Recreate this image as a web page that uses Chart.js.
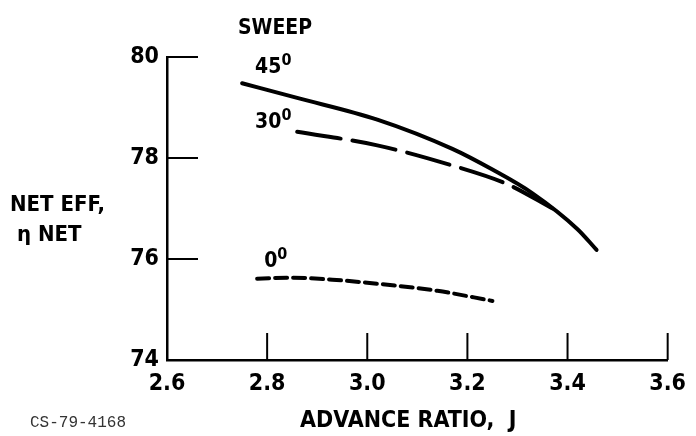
<!DOCTYPE html>
<html>
<head>
<meta charset="utf-8">
<title>Net efficiency vs advance ratio</title>
<script src="https://cdn.jsdelivr.net/npm/chart.js@4.4.1/dist/chart.umd.min.js"></script>
<style>
  html, body { margin: 0; padding: 0; background: #fff; }
  #wrap { width: 696px; height: 436px; }
</style>
</head>
<body>
<div id="wrap"><canvas id="effChart" width="696" height="436"></canvas></div>
<script>
// values
const sweep45J   = [2.75, 2.86, 3.02, 3.17, 3.25, 3.33, 3.42, 3.458];
const sweep45Eff = [79.48, 79.19, 78.76, 78.18, 77.77, 77.30, 76.59, 76.18];

const sweep30J   = [2.86, 3.02, 3.17, 3.28, 3.37];
const sweep30Eff = [78.52, 78.25, 77.85, 77.48, 77.00];

const sweep0J    = [2.78, 2.85, 2.93, 3.02, 3.14, 3.25];
const sweep0Eff  = [75.61, 75.63, 75.59, 75.51, 75.37, 75.17];

const xTicks = [2.6, 2.8, 3.0, 3.2, 3.4, 3.6];
const yTicks = [74, 76, 78, 80];

// curve labels: text, J, eff at baseline
const curveLabels = [
    { text: '45', x: 2.776, y: 79.68 },
    { text: '30', x: 2.776, y: 78.60 },
    { text: '0',  x: 2.794, y: 75.84 }
];

const FONT = '"Liberation Sans Narrow", "DejaVu Sans Condensed", "Roboto Condensed", sans-serif';

function toPoints(xs, ys) {
    return xs.map((x, i) => ({ x: x, y: ys[i] }));
}

const annotations = {
    id: 'annotations',
    afterDraw(chart) {
        const ctx = chart.ctx;
        const xs = chart.scales.x;
        const ys = chart.scales.y;
        const area = chart.chartArea;

        ctx.save();
        ctx.strokeStyle = '#000';
        ctx.lineWidth = 2;
        ctx.lineCap = 'butt';

        // inward tick marks
        yTicks.forEach(v => {
            if (v === ys.min) return;
            const py = ys.getPixelForValue(v);
            ctx.beginPath();
            ctx.moveTo(area.left, py);
            ctx.lineTo(area.left + 31, py);
            ctx.stroke();
        });
        xTicks.forEach(v => {
            if (v === xs.min) return;
            const px = xs.getPixelForValue(v);
            ctx.beginPath();
            ctx.moveTo(px, area.bottom);
            ctx.lineTo(px, area.bottom - 27);
            ctx.stroke();
        });

        ctx.fillStyle = '#000';
        ctx.textBaseline = 'alphabetic';

        // curve labels with degree sign
        curveLabels.forEach(l => {
            const px = xs.getPixelForValue(l.x);
            const py = ys.getPixelForValue(l.y);
            ctx.font = 'bold 21px ' + FONT;
            ctx.textAlign = 'left';
            ctx.fillText(l.text, px, py);
            const w = ctx.measureText(l.text).width;
            ctx.font = 'bold 16px ' + FONT;
            ctx.fillText('0', px + w, py - 8);
        });

        // legend heading
        ctx.font = 'bold 21px ' + FONT;
        ctx.textAlign = 'left';
        ctx.fillText('SWEEP', 238, 34);

        // y title
        ctx.font = 'bold 22px ' + FONT;
        ctx.fillText('NET EFF,', 10, 211);
        ctx.fillText('\u03B7 NET', 17, 241);

        // x title
        ctx.font = 'bold 23px ' + FONT;
        ctx.fillText('ADVANCE RATIO,  J', 300, 427);

        // figure number
        ctx.font = '16px "Liberation Mono", "DejaVu Sans Mono", monospace';
        ctx.fillStyle = '#333';
        ctx.fillText('CS-79-4168', 30, 427);
        ctx.restore();
    }
};

new Chart(document.getElementById('effChart'), {
    type: 'line',
    data: {
        datasets: [
            {
                label: '45',
                data: toPoints(sweep45J, sweep45Eff),
                borderColor: '#000',
                borderWidth: 4,
                borderCapStyle: 'round',
                pointRadius: 0,
                cubicInterpolationMode: 'monotone',
                fill: false
            },
            {
                label: '30',
                data: toPoints(sweep30J, sweep30Eff),
                borderColor: '#000',
                borderWidth: 4,
                borderCapStyle: 'round',
                borderDash: [44, 12],
                pointRadius: 0,
                cubicInterpolationMode: 'monotone',
                fill: false
            },
            {
                label: '0',
                data: toPoints(sweep0J, sweep0Eff),
                borderColor: '#000',
                borderWidth: 4,
                borderCapStyle: 'round',
                borderDash: [12, 6],
                pointRadius: 0,
                cubicInterpolationMode: 'monotone',
                fill: false
            }
        ]
    },
    options: {
        responsive: false,
        animation: false,
        devicePixelRatio: 1,
        layout: { padding: { top: 57, right: 19, left: 0, bottom: 0 } },
        plugins: {
            legend: { display: false },
            tooltip: { enabled: false }
        },
        scales: {
            x: {
                type: 'linear',
                min: 2.6,
                max: 3.6,
                afterFit: s => { s.height = 76; },
                afterBuildTicks: s => { s.ticks = xTicks.map(v => ({ value: v })); },
                ticks: {
                    color: '#000',
                    padding: 10,
                    maxRotation: 0,
                    font: { family: FONT, size: 23, weight: 'bold' },
                    callback: v => v.toFixed(1)
                },
                grid: { display: false, drawTicks: false },
                border: { display: true, color: '#000', width: 2.5 }
            },
            y: {
                type: 'linear',
                min: 74,
                max: 80,
                afterFit: s => { s.width = 167; },
                afterBuildTicks: s => { s.ticks = yTicks.map(v => ({ value: v })); },
                ticks: {
                    color: '#000',
                    padding: 8,
                    font: { family: FONT, size: 23, weight: 'bold' }
                },
                grid: { display: false, drawTicks: false },
                border: { display: true, color: '#000', width: 2.5 }
            }
        }
    },
    plugins: [annotations]
});
</script>
</body>
</html>
